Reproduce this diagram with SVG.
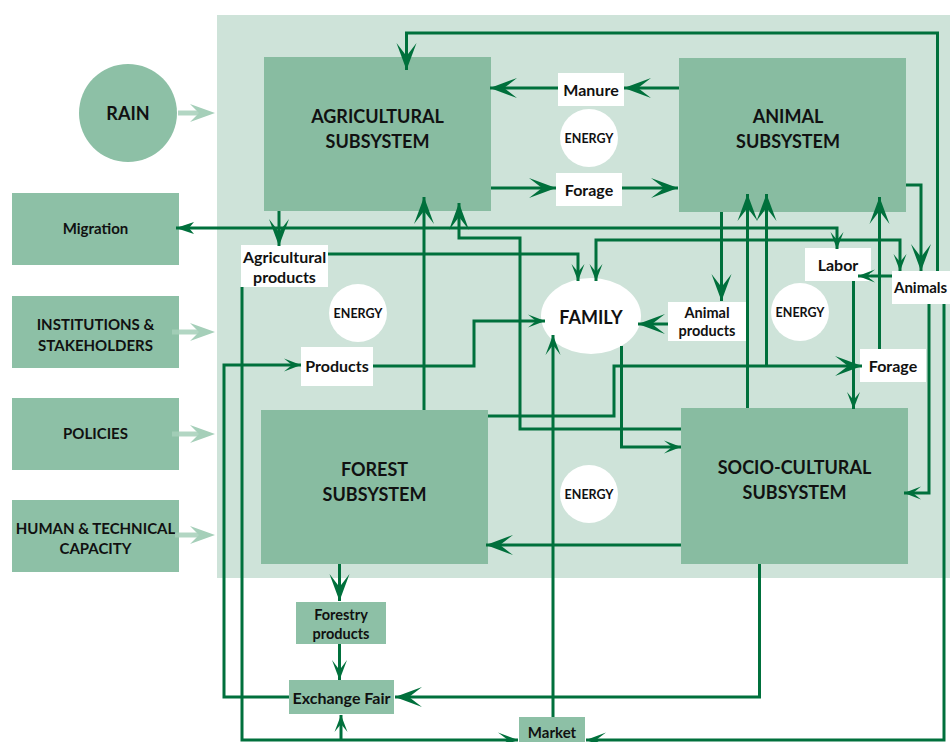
<svg xmlns="http://www.w3.org/2000/svg" width="950" height="742" viewBox="0 0 950 742">
<style>
.panel{fill:#cee3d9}
.sub{fill:#88bca1}
.ext{fill:#8dc0a6}
.lbl{fill:#ffffff}
.en{fill:#ffffff}
.t{font-family:Lato,"Liberation Sans",sans-serif;font-weight:bold;fill:#111111;text-anchor:middle}
.big{font-size:18px}
.l16{font-size:16px}
.l15{font-size:15px}
.l14{font-size:14.5px}
.e{font-size:12.5px}
.c{fill:none;stroke:#00703c;stroke-width:3}
.pale{fill:none;stroke:#a5cfb9;stroke-width:5;stroke-opacity:0.85}
.paleh{fill:#a5cfb9}
</style>
<defs>
<marker id="aB" markerUnits="userSpaceOnUse" orient="auto-start-reverse" refX="0" refY="0" markerWidth="40" markerHeight="40" overflow="visible"><path d="M0,0 L-27,-10 L-14,0 L-27,10 Z" fill="#00703c"/></marker>
<marker id="aM" markerUnits="userSpaceOnUse" orient="auto-start-reverse" refX="0" refY="0" markerWidth="40" markerHeight="40" overflow="visible"><path d="M0,0 L-20,-7.5 L-10,0 L-20,7.5 Z" fill="#00703c"/></marker>
<marker id="aS" markerUnits="userSpaceOnUse" orient="auto-start-reverse" refX="0" refY="0" markerWidth="40" markerHeight="40" overflow="visible"><path d="M0,0 L-17,-6.5 L-9,0 L-17,6.5 Z" fill="#00703c"/></marker>
<marker id="aT" markerUnits="userSpaceOnUse" orient="auto-start-reverse" refX="0" refY="0" markerWidth="40" markerHeight="40" overflow="visible"><path d="M0,0 L-18,-6 L-13,0 L-18,6 Z" fill="#00703c"/></marker>
</defs>

<rect class="panel" x="217" y="15" width="733" height="563"/>

<g id="rain"><circle class="ext" cx="128" cy="113" r="49"/><text class="t big" x="128" y="120">RAIN</text></g>
<g id="migration"><rect class="ext" x="12" y="193" width="167" height="72"/><text class="t l15" x="95.5" y="234">Migration</text></g>
<g id="institutions"><rect class="ext" x="12" y="296" width="167" height="72"/><text class="t l15" x="95.5" y="330">INSTITUTIONS &amp;</text><text class="t l15" x="95.5" y="351">STAKEHOLDERS</text></g>
<g id="policies"><rect class="ext" x="12" y="398" width="167" height="72"/><text class="t l15" x="95.5" y="439">POLICIES</text></g>
<g id="human"><rect class="ext" x="12" y="500" width="167" height="72"/><text class="t l15" x="95.5" y="534">HUMAN &amp; TECHNICAL</text><text class="t l15" x="95.5" y="554">CAPACITY</text></g>

<g id="pale-arrows">
<path class="pale" d="M178,113 H202"/><path class="paleh" d="M215,113 L190,104 L199,113 L190,122 Z"/>
<path class="pale" d="M172,332 H202"/><path class="paleh" d="M215,332 L190,323 L199,332 L190,341 Z"/>
<path class="pale" d="M172,434 H202"/><path class="paleh" d="M215,434 L190,425 L199,434 L190,443 Z"/>
<path class="pale" d="M175,535 H202"/><path class="paleh" d="M215,535 L190,526 L199,535 L190,544 Z"/>
</g>

<g id="agricultural"><rect class="sub" x="264" y="57" width="227" height="154"/><text class="t big" x="377.5" y="123">AGRICULTURAL</text><text class="t big" x="377.5" y="148">SUBSYSTEM</text></g>
<g id="animal"><rect class="sub" x="679" y="58" width="227" height="154"/><text class="t big" x="788" y="123">ANIMAL</text><text class="t big" x="788" y="148">SUBSYSTEM</text></g>
<g id="forest"><rect class="sub" x="261" y="410" width="227" height="154"/><text class="t big" x="374.5" y="476">FOREST</text><text class="t big" x="374.5" y="501">SUBSYSTEM</text></g>
<g id="socio"><rect class="sub" x="681" y="408" width="227" height="156"/><text class="t big" x="794.5" y="474">SOCIO-CULTURAL</text><text class="t big" x="794.5" y="499">SUBSYSTEM</text></g>

<g id="family"><ellipse class="en" cx="591" cy="316" rx="50" ry="38"/><text class="t big" x="591" y="324">FAMILY</text></g>

<g id="energy1"><circle class="en" cx="589" cy="138" r="29"/><text class="t e" x="589" y="142.5">ENERGY</text></g>
<g id="energy2"><circle class="en" cx="358" cy="313" r="29"/><text class="t e" x="358" y="317.5">ENERGY</text></g>
<g id="energy3"><circle class="en" cx="800" cy="312" r="29"/><text class="t e" x="800" y="316.5">ENERGY</text></g>
<g id="energy4"><circle class="en" cx="589" cy="494" r="29"/><text class="t e" x="589" y="498.5">ENERGY</text></g>

<g id="manure"><rect class="lbl" x="558" y="73" width="66" height="33"/><text class="t l16" x="591" y="96">Manure</text></g>
<g id="forage-top"><rect class="lbl" x="556" y="173" width="66" height="33"/><text class="t l16" x="589" y="196">Forage</text></g>
<g id="agri-products"><rect class="lbl" x="241" y="245" width="87" height="42"/><text class="t l16" x="284.5" y="263">Agricultural</text><text class="t l16" x="284.5" y="283">products</text></g>
<g id="products"><rect class="lbl" x="301" y="347" width="72" height="39"/><text class="t l16" x="337" y="372">Products</text></g>
<g id="animal-products"><rect class="lbl" x="668" y="302" width="78" height="39"/><text class="t l14" x="707" y="318">Animal</text><text class="t l14" x="707" y="336">products</text></g>
<g id="labor"><rect class="lbl" x="805" y="248" width="66" height="33"/><text class="t l16" x="838" y="271">Labor</text></g>
<g id="animals"><rect class="lbl" x="892" y="271" width="66" height="33"/><text class="t l15" x="894" y="293" style="text-anchor:start">Animals</text></g>
<g id="forage-low"><rect class="lbl" x="860" y="349" width="66" height="33"/><text class="t l16" x="893" y="372">Forage</text></g>
<g id="forestry-products"><rect class="ext" x="296" y="602" width="90" height="42"/><text class="t l14" x="341" y="620">Forestry</text><text class="t l14" x="341" y="639">products</text></g>
<g id="exchange-fair"><rect class="ext" x="289" y="680" width="105" height="34"/><text class="t" style="font-size:16px" x="341.5" y="704">Exchange Fair</text></g>
<g id="market"><rect class="ext" x="519" y="717" width="66" height="30"/><text class="t l15" x="552" y="738">Market</text></g>

<g id="connectors">
<path class="c" d="M937.5,271 V33 H406.5 V70" marker-end="url(#aB)"/>
<path class="c" d="M679,88 H624" marker-end="url(#aB)"/>
<path class="c" d="M558,88 H490" marker-end="url(#aB)"/>
<path class="c" d="M491,188 H556" marker-end="url(#aB)"/>
<path class="c" d="M622,188 H678" marker-end="url(#aB)"/>
<path class="c" d="M279,211 V246" marker-end="url(#aB)"/>
<path class="c" d="M837,249 V228 H176" marker-start="url(#aS)" marker-end="url(#aT)"/>
<path class="c" d="M900,271 V240 H596 V281" marker-start="url(#aS)" marker-end="url(#aS)"/>
<path class="c" d="M328,254 H578 V281" marker-end="url(#aS)"/>
<path class="c" d="M242,287 V740 H518" marker-end="url(#aM)"/>
<path class="c" d="M341,740 V715" marker-end="url(#aS)"/>
<path class="c" d="M289,697 H224 V365 H301" marker-end="url(#aS)"/>
<path class="c" d="M373,366 H474 V321 H545" marker-end="url(#aS)"/>
<path class="c" d="M424,410 V197" marker-end="url(#aB)"/>
<path class="c" d="M681,429 H520 V238 H459 V203" marker-end="url(#aB)"/>
<path class="c" d="M488,416 H614 V366 H862" marker-end="url(#aB)"/>
<path class="c" d="M766.5,366 V194" marker-end="url(#aB)"/>
<path class="c" d="M747.5,408 V194" marker-end="url(#aB)"/>
<path class="c" d="M721.5,212 V301" marker-end="url(#aB)"/>
<path class="c" d="M668,324 H638" marker-end="url(#aB)"/>
<path class="c" d="M621.5,346 V447 H681" marker-end="url(#aS)"/>
<path class="c" d="M553,717 V335" marker-end="url(#aM)"/>
<path class="c" d="M681,545 H486" marker-end="url(#aB)"/>
<path class="c" d="M759.5,564 V697 H395" marker-end="url(#aB)"/>
<path class="c" d="M339.5,564 V601" marker-end="url(#aB)"/>
<path class="c" d="M339.5,644 V680" marker-end="url(#aM)"/>
<path class="c" d="M906,185 H921 V271" marker-end="url(#aB)"/>
<path class="c" d="M892,276 H858" marker-end="url(#aS)"/>
<path class="c" d="M853.5,281 V409" marker-end="url(#aS)"/>
<path class="c" d="M879.5,349 V197" marker-end="url(#aB)"/>
<path class="c" d="M929,304 V493 H904" marker-end="url(#aS)"/>
<path class="c" d="M944,304 V740 H586" marker-end="url(#aM)"/>
</g>
</svg>
